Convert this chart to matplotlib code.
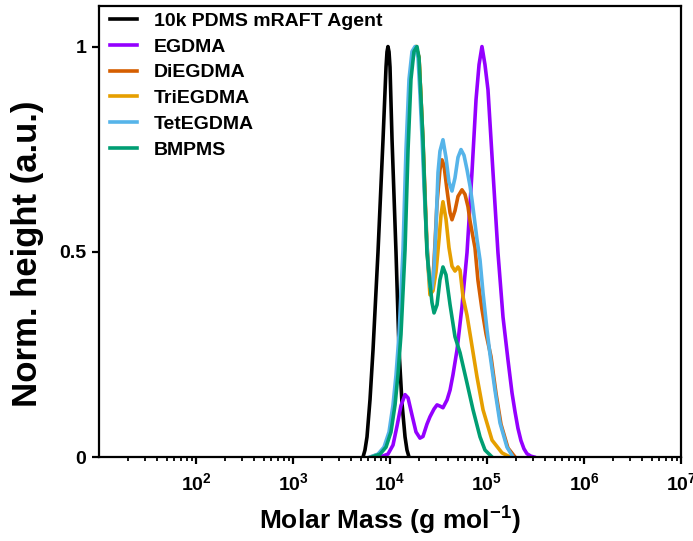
import numpy as np
import matplotlib.pyplot as plt
from matplotlib.ticker import FixedLocator, FuncFormatter, NullFormatter

# === data: log10(molar mass) and normalised height ===
pdms_logm = [3.722, 3.742, 3.763, 3.794, 3.825, 3.876, 3.928, 3.959, 3.969, 3.979,
             3.990, 4.000, 4.021, 4.062, 4.093, 4.124, 4.155, 4.175, 4.196]
pdms_h = [0.0, 0.017, 0.049, 0.14, 0.261, 0.498, 0.773, 0.95, 0.987, 1.0,
          0.987, 0.95, 0.773, 0.498, 0.261, 0.13, 0.049, 0.017, 0.0]

egdma_logm = [3.897, 3.979, 4.031, 4.072, 4.113, 4.155, 4.186, 4.227, 4.268, 4.309,
              4.340, 4.381, 4.412, 4.454, 4.485, 4.515, 4.546, 4.588, 4.619, 4.649,
              4.691, 4.742, 4.794, 4.845, 4.887, 4.918, 4.948, 4.979, 5.010, 5.062,
              5.113, 5.165, 5.216, 5.258, 5.289, 5.319, 5.350, 5.381, 5.412, 5.453,
              5.485]
egdma_h = [0.0, 0.007, 0.029, 0.075, 0.125, 0.152, 0.144, 0.102, 0.061, 0.046,
           0.050, 0.080, 0.098, 0.117, 0.127, 0.124, 0.120, 0.139, 0.163, 0.20,
           0.261, 0.366, 0.498, 0.693, 0.871, 0.956, 1.0, 0.956, 0.895, 0.693,
           0.498, 0.341, 0.237, 0.156, 0.11, 0.07, 0.04, 0.02, 0.008, 0.002,
           0.0]

diegdma_logm = [3.804, 3.887, 3.948, 4.000, 4.041, 4.072, 4.103, 4.144, 4.175, 4.206,
                4.237, 4.268, 4.299, 4.320, 4.340, 4.361, 4.381, 4.402, 4.423, 4.443,
                4.464, 4.485, 4.515, 4.536, 4.557, 4.588, 4.619, 4.639, 4.670, 4.701,
                4.742, 4.773, 4.804, 4.825, 4.876, 4.907, 4.948, 4.990, 5.041, 5.093,
                5.144, 5.216, 5.289]
diegdma_h = [0.0, 0.007, 0.024, 0.061, 0.127, 0.200, 0.298, 0.505, 0.749, 0.920,
             0.988, 1.0, 0.973, 0.871, 0.773, 0.64, 0.52, 0.44, 0.41, 0.43,
             0.52, 0.62, 0.70, 0.724, 0.71, 0.65, 0.595, 0.578, 0.60, 0.635,
             0.651, 0.64, 0.61, 0.575, 0.51, 0.43, 0.36, 0.30, 0.245, 0.155,
             0.08, 0.022, 0.0]

triegdma_logm = [3.804, 3.887, 3.948, 4.000, 4.041, 4.072, 4.103, 4.144, 4.175, 4.206,
                 4.237, 4.268, 4.299, 4.320, 4.340, 4.361, 4.381, 4.402, 4.412, 4.443,
                 4.474, 4.505, 4.526, 4.546, 4.577, 4.608, 4.639, 4.670, 4.701, 4.722,
                 4.753, 4.794, 4.825, 4.897, 4.959, 5.052, 5.155, 5.237]
triegdma_h = [0.0, 0.007, 0.024, 0.061, 0.127, 0.200, 0.298, 0.505, 0.749, 0.920,
              0.988, 1.0, 0.973, 0.871, 0.76, 0.62, 0.51, 0.43, 0.395, 0.405,
              0.45, 0.53, 0.59, 0.622, 0.58, 0.51, 0.465, 0.453, 0.463, 0.455,
              0.39, 0.345, 0.30, 0.195, 0.115, 0.041, 0.010, 0.0]

tetegdma_logm = [3.794, 3.876, 3.938, 3.990, 4.031, 4.062, 4.093, 4.134, 4.165, 4.196,
                 4.227, 4.258, 4.289, 4.309, 4.330, 4.351, 4.371, 4.392, 4.412, 4.433,
                 4.454, 4.474, 4.495, 4.515, 4.546, 4.577, 4.608, 4.639, 4.670, 4.701,
                 4.732, 4.763, 4.794, 4.825, 4.845, 4.897, 4.928, 4.959, 5.000, 5.031,
                 5.082, 5.134, 5.206, 5.268]
tetegdma_h = [0.0, 0.007, 0.024, 0.061, 0.127, 0.200, 0.298, 0.505, 0.749, 0.920,
              0.988, 1.0, 0.973, 0.885, 0.78, 0.66, 0.56, 0.47, 0.415, 0.41,
              0.46, 0.56, 0.693, 0.745, 0.773, 0.73, 0.67, 0.648, 0.68, 0.73,
              0.749, 0.735, 0.70, 0.66, 0.627, 0.53, 0.48, 0.40, 0.31, 0.25,
              0.163, 0.083, 0.024, 0.0]

bmpms_logm = [3.814, 3.897, 3.959, 4.010, 4.052, 4.082, 4.113, 4.155, 4.186, 4.216,
              4.247, 4.278, 4.299, 4.320, 4.340, 4.361, 4.381, 4.412, 4.433, 4.454,
              4.485, 4.515, 4.546, 4.577, 4.619, 4.670, 4.722, 4.794, 4.856, 4.928,
              4.979, 5.052]
bmpms_h = [0.0, 0.007, 0.024, 0.061, 0.127, 0.200, 0.298, 0.505, 0.749, 0.920,
           0.988, 1.0, 0.973, 0.871, 0.773, 0.627, 0.498, 0.424, 0.376, 0.351,
           0.371, 0.432, 0.463, 0.444, 0.371, 0.293, 0.254, 0.180, 0.115, 0.049,
           0.017, 0.0]

series = [
    ("10k PDMS mRAFT Agent", pdms_logm, pdms_h, "black"),
    ("EGDMA", egdma_logm, egdma_h, "#9400FF"),
    ("DiEGDMA", diegdma_logm, diegdma_h, "#D55E00"),
    ("TriEGDMA", triegdma_logm, triegdma_h, "#E69F00"),
    ("TetEGDMA", tetegdma_logm, tetegdma_h, "#56B4E9"),
    ("BMPMS", bmpms_logm, bmpms_h, "#009E73"),
]

x_ticks = [1e2, 1e3, 1e4, 1e5, 1e6, 1e7]
y_ticks = [0, 0.5, 1]
y_tick_labels = ["0", "0.5", "1"]

# === style ===
plt.rcParams['font.family'] = ['Liberation Sans', 'DejaVu Sans']
plt.rcParams['font.weight'] = 'bold'
plt.rcParams['mathtext.fontset'] = 'custom'
plt.rcParams['mathtext.rm'] = 'Liberation Sans:bold'
plt.rcParams['mathtext.bf'] = 'Liberation Sans:bold'
plt.rcParams['mathtext.it'] = 'Liberation Sans:bold'
plt.rcParams['mathtext.sf'] = 'Liberation Sans:bold'

fig = plt.figure(figsize=(6.93, 5.41), dpi=100)
ax = fig.add_axes([99 / 693, 1 - 457 / 541, 582 / 693, 451.5 / 541])

for label, logm, h, color in series:
    ax.plot(10 ** np.array(logm), h, color=color, lw=2.6, label=label,
            solid_joinstyle='round')

ax.set_xscale('log')
ax.set_xlim(1e1, 1e7)
ax.set_ylim(0, 1.1)

ax.xaxis.set_major_locator(FixedLocator(x_ticks))
ax.xaxis.set_major_formatter(FuncFormatter(lambda v, p: r'$10^{%d}$' % round(np.log10(v))))
minor = [m * 10 ** e for e in range(1, 7) for m in range(2, 10)]
ax.xaxis.set_minor_locator(FixedLocator(minor))
ax.xaxis.set_minor_formatter(NullFormatter())

ax.set_yticks(y_ticks)
ax.set_yticklabels(y_tick_labels)

for s in ax.spines.values():
    s.set_linewidth(1.6)
ax.tick_params(axis='both', which='major', direction='out', length=5, width=1.6,
               labelsize=14, pad=4)
ax.tick_params(axis='x', which='minor', direction='out', length=3, width=1.3)
ax.tick_params(axis='x', which='major', pad=6)

ax.set_xlabel(r'Molar Mass (g mol$^{-1}$)', fontsize=19, fontweight='bold', labelpad=8)
ax.set_ylabel('Norm. height (a.u.)', fontsize=25, fontweight='bold')
ax.yaxis.set_label_coords(-0.095, 0.45)

ax.legend(loc='upper left', bbox_to_anchor=(0.019, 0.985), frameon=False,
          handlelength=1.4, handletextpad=0.85, labelspacing=0.42,
          borderaxespad=0, borderpad=0, prop={'weight': 'bold', 'size': 14})

fig.savefig('out.png', dpi=100)
